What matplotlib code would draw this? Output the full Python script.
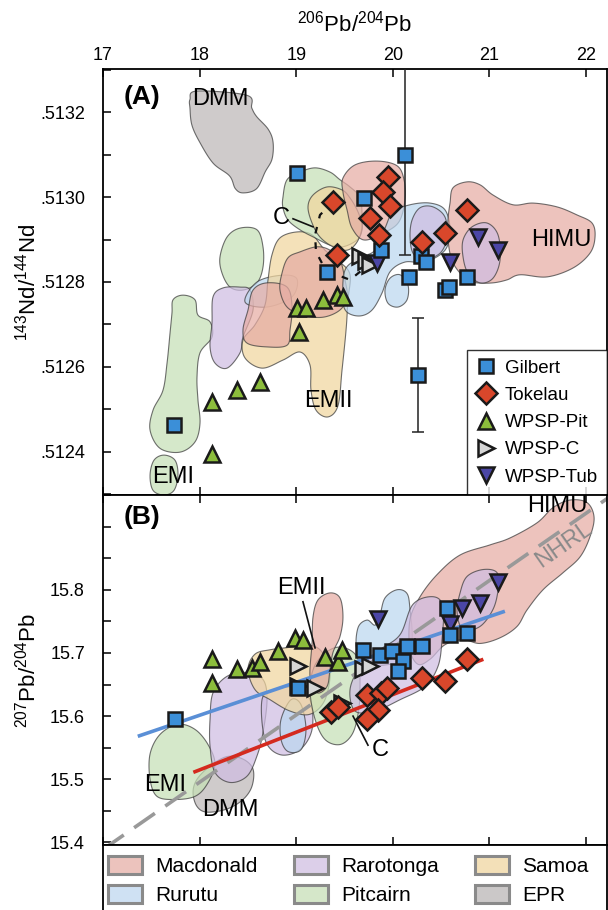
import numpy as np
import matplotlib
matplotlib.use("Agg")
import matplotlib.pyplot as plt
from matplotlib.patches import Polygon, Patch

plt.rcParams['font.family'] = ['Liberation Sans', 'DejaVu Sans']
plt.rcParams['mathtext.default'] = 'regular'

# ---------------- data: panel A (206Pb/204Pb vs 143Nd/144Nd) ----------------
gil_a_x = [19.005, 20.126, 19.702, 19.878, 20.292, 20.344, 19.319, 20.168, 20.540, 20.582, 20.768, 17.735, 20.261]
gil_a_y = [.513056, .513100, .512998, .512875, .512861, .512847, .512824, .512812, .512781, .512788, .512812, .512463, .512581]
tok_a_x = [19.953, 19.902, 19.971, 19.384, 19.764, 19.860, 19.425, 20.299, 20.540, 20.765]
tok_a_y = [.513048, .513013, .512978, .512989, .512950, .512911, .512864, .512895, .512915, .512970]
pit_a_x = [19.005, 19.101, 19.281, 19.425, 19.488, 19.029, 18.625, 18.384, 18.125, 18.125]
pit_a_y = [.512738, .512738, .512758, .512769, .512765, .512683, .512565, .512545, .512518, .512394]
wc_a_x = [19.660, 19.723, 19.764]
wc_a_y = [.512861, .512850, .512840]
tub_a_x = [19.833, 20.592, 20.885, 21.092]
tub_a_y = [.512844, .512848, .512907, .512875]
err_a_x = [20.126, 20.261]
err_a_y = [.513100, .512581]
err_a_e = [.000236, .000135]
pathC_a_x = [19.384, 19.246, 19.195, 19.205, 19.277, 19.422, 19.557, 19.681]
pathC_a_y = [.512989, .512958, .512911, .512871, .512840, .512817, .512805, .512828]

# fields panel A
epr_a1_x = [17.90, 17.97, 18.49, 18.54, 18.59, 18.71, 18.76, 18.75, 18.68, 18.59, 18.45, 18.37, 18.31, 18.14, 18.00, 17.92, 17.90]
epr_a1_y = [.51323, .51325, .51324, .51321, .51319, .51316, .51313, .51309, .51306, .51302, .51301, .51302, .51305, .51308, .51313, .51317, .51321]
mac_a1_x = [20.592, 20.623, 20.768, 20.903, 21.037, 21.244, 21.451, 21.700, 21.907, 22.062, 22.093, 22.041, 21.865, 21.596, 21.317, 21.182, 21.037, 20.872, 20.768, 20.623, 20.571, 20.571]
mac_a1_y = [.512986, .513022, .513036, .513029, .513005, .512982, .512986, .512977, .512958, .512939, .512906, .512868, .512833, .512812, .512817, .512805, .512798, .512798, .512805, .512845, .512899, .512946]
mac_a2_x = [19.484, 19.609, 19.836, 20.043, 20.116, 20.126, 20.064, 19.909, 19.702, 19.578, 19.526, 19.484]
mac_a2_y = [.513045, .513076, .513085, .513074, .513041, .512993, .512942, .512916, .512899, .512927, .512970, .513012]
mac_a3_x = [18.853, 18.915, 19.039, 19.215, 19.350, 19.453, 19.505, 19.526, 19.453, 19.277, 19.070, 18.905, 18.832]
mac_a3_y = [.512821, .512857, .512871, .512883, .512875, .512852, .512805, .512765, .512734, .512717, .512722, .512741, .512781]
mac_a4_x = [18.553, 18.698, 18.905, 18.957, 18.936, 18.905, 18.698, 18.491, 18.449, 18.501]
mac_a4_y = [.512781, .512798, .512788, .512741, .512687, .512651, .512647, .512656, .512687, .512734]
pit_f_a1_x = [18.863, 18.905, 19.039, 19.195, 19.350, 19.453, 19.557, 19.660, 19.681, 19.681, 19.629, 19.484, 19.350, 19.195, 19.039, 18.915, 18.863]
pit_f_a1_y = [.513000, .513041, .513059, .513069, .513059, .513041, .513024, .513000, .512963, .512923, .512899, .512883, .512887, .512904, .512923, .512946, .512975]
pit_f_a2_x = [18.211, 18.284, 18.418, 18.594, 18.656, 18.656, 18.594, 18.449, 18.315, 18.232]
pit_f_a2_y = [.512859, .512906, .512927, .512923, .512883, .512835, .512798, .512781, .512788, .512821]
pit_f_a3_x = [17.725, 17.828, 17.952, 17.983, 18.108, 18.128, 18.004, 17.973, 17.983, 18.004, 17.952, 17.797, 17.590, 17.487, 17.518, 17.621, 17.663, 17.694, 17.714]
pit_f_a3_y = [.512758, .512769, .512758, .512722, .512706, .512670, .512633, .512576, .512522, .512467, .512423, .512399, .512408, .512451, .512498, .512545, .512609, .512680, .512727]
pit_f_a4_x = [17.631, 17.745, 17.776, 17.735, 17.631, 17.518, 17.487, 17.528]
pit_f_a4_y = [.512392, .512380, .512345, .512309, .512298, .512309, .512345, .512380]
sam_a1_x = [19.122, 19.174, 19.319, 19.474, 19.557, 19.640, 19.681, 19.629, 19.526, 19.381, 19.246, 19.164]
sam_a1_y = [.512977, .513005, .513024, .513017, .512998, .512965, .512930, .512894, .512875, .512883, .512906, .512939]
sam_a2_x = [18.749, 18.832, 19.008, 19.164, 19.298, 19.453, 19.557, 19.536, 19.516, 19.474, 19.433, 19.329, 19.205, 19.153, 19.143, 19.039, 18.863, 18.646, 18.470, 18.449, 18.573, 18.677, 18.708]
sam_a2_y = [.512864, .512904, .512918, .512911, .512875, .512847, .512817, .512758, .512687, .512592, .512509, .512482, .512498, .512545, .512604, .512635, .512616, .512597, .512621, .512663, .512699, .512746, .512805]
rur_a1_x = [19.484, 19.505, 19.660, 19.816, 19.919, 20.002, 20.178, 20.385, 20.540, 20.592, 20.540, 20.333, 20.126, 19.971, 19.888, 19.785, 19.660, 19.526]
rur_a1_y = [.512758, .512828, .512857, .512875, .512927, .512965, .512982, .512986, .512970, .512923, .512875, .512847, .512847, .512824, .512774, .512734, .512720, .512729]
rur_a2_x = [19.919, 19.971, 20.075, 20.157, 20.147, 20.054, 19.950]
rur_a2_y = [.512781, .512809, .512817, .512793, .512758, .512741, .512750]
rur_a3_x = [18.470, 18.594, 18.853, 19.008, 18.957, 18.698]
rur_a3_y = [.512753, .512800, .512816, .512807, .512765, .512741]
rar_a1_x = [20.199, 20.282, 20.416, 20.540, 20.561, 20.489, 20.313, 20.209, 20.178]
rar_a1_y = [.512946, .512975, .512977, .512953, .512906, .512868, .512852, .512868, .512906]
rar_a2_x = [20.727, 20.820, 20.975, 21.089, 21.110, 21.037, 20.903, 20.778, 20.727]
rar_a2_y = [.512899, .512930, .512939, .512911, .512852, .512809, .512798, .512821, .512859]
rar_a3_x = [18.139, 18.242, 18.418, 18.522, 18.553, 18.449, 18.418, 18.284, 18.159, 18.108, 18.128]
rar_a3_y = [.512765, .512786, .512788, .512781, .512734, .512670, .512633, .512597, .512609, .512647, .512703]

# ---------------- data: panel B (206Pb/204Pb vs 207Pb/204Pb) ----------------
gil_b_x = [17.745, 19.022, 19.695, 19.867, 19.989, 20.144, 20.299, 20.109, 20.057, 20.558, 20.592, 20.765]
gil_b_y = [15.595, 15.645, 15.705, 15.697, 15.703, 15.711, 15.711, 15.687, 15.672, 15.771, 15.729, 15.732]
tok_b_x = [19.360, 19.433, 19.733, 19.878, 19.940, 19.847, 19.733, 20.299, 20.540, 20.765]
tok_b_y = [15.606, 15.614, 15.633, 15.637, 15.645, 15.609, 15.595, 15.661, 15.656, 15.691]
pit_b_x = [18.125, 18.125, 18.384, 18.539, 18.625, 18.815, 18.988, 19.074, 19.298, 19.428, 19.471]
pit_b_y = [15.690, 15.652, 15.674, 15.676, 15.686, 15.703, 15.724, 15.721, 15.694, 15.686, 15.704]
wc_b_x = [19.022, 19.022, 19.195, 19.471, 19.695, 19.764]
wc_b_y = [15.679, 15.647, 15.645, 15.621, 15.674, 15.679]
tub_b_x = [21.092, 20.903, 20.713, 20.592, 19.842]
tub_b_y = [15.813, 15.779, 15.771, 15.746, 15.754]
gil_fit_x = [17.36, 21.16]
gil_fit_y = [15.568, 15.766]
tok_fit_x = [17.935, 20.937]
tok_fit_y = [15.511, 15.690]
nhrl_x = [17.0, 22.3]
nhrl_y = [15.389, 15.953]

mac_b1_x = [20.178, 20.282, 20.458, 20.696, 21.006, 21.213, 21.493, 21.658, 21.834, 22.010, 22.083, 22.041, 21.938, 21.762, 21.555, 21.389, 21.286, 21.110, 20.903, 20.727, 20.540, 20.385, 20.261, 20.178]
mac_b1_y = [15.753, 15.789, 15.824, 15.855, 15.871, 15.882, 15.906, 15.930, 15.942, 15.938, 15.915, 15.884, 15.852, 15.827, 15.800, 15.768, 15.742, 15.724, 15.715, 15.721, 15.713, 15.690, 15.682, 15.705]
mac_b2_x = [19.174, 19.226, 19.350, 19.453, 19.484, 19.453, 19.381, 19.350, 19.319, 19.215, 19.143, 19.164]
mac_b2_y = [15.757, 15.784, 15.795, 15.787, 15.757, 15.726, 15.701, 15.674, 15.647, 15.637, 15.662, 15.716]
rar_b1_x = [20.768, 20.934, 21.079, 21.089, 21.037, 20.903, 20.727, 20.665, 20.696]
rar_b1_y = [15.821, 15.832, 15.827, 15.800, 15.769, 15.742, 15.737, 15.764, 15.795]
rar_b2_x = [19.557, 19.660, 19.867, 20.075, 20.209, 20.416, 20.520, 20.509, 20.468, 20.333, 20.075, 19.816, 19.609]
rar_b2_y = [15.642, 15.677, 15.705, 15.729, 15.777, 15.789, 15.773, 15.721, 15.679, 15.647, 15.626, 15.608, 15.608]
rar_b3_x = [18.139, 18.284, 18.491, 18.656, 18.698, 18.656, 18.594, 18.491, 18.315, 18.159, 18.108, 18.108]
rar_b3_y = [15.637, 15.663, 15.669, 15.658, 15.626, 15.574, 15.537, 15.505, 15.495, 15.511, 15.552, 15.595]
rar_b4_x = [18.646, 18.781, 18.988, 19.143, 19.164, 19.039, 18.832, 18.677]
rar_b4_y = [15.626, 15.642, 15.645, 15.626, 15.579, 15.547, 15.539, 15.563]
rur_b1_x = [19.629, 19.640, 19.733, 19.816, 19.867, 19.919, 20.043, 20.147, 20.178, 20.199, 20.126, 19.971, 19.764]
rur_b1_y = [15.705, 15.740, 15.752, 15.744, 15.760, 15.787, 15.800, 15.794, 15.769, 15.721, 15.690, 15.682, 15.682]
rur_b2_x = [18.843, 18.946, 19.050, 19.101, 19.050, 18.915, 18.843]
rur_b2_y = [15.595, 15.626, 15.618, 15.579, 15.547, 15.544, 15.563]
pit_f_b1_x = [17.487, 17.590, 17.776, 17.952, 18.087, 18.159, 18.077, 17.952, 17.745, 17.559, 17.487]
pit_f_b1_y = [15.540, 15.571, 15.587, 15.579, 15.555, 15.524, 15.492, 15.473, 15.468, 15.473, 15.500]
pit_f_b2_x = [19.143, 19.195, 19.350, 19.505, 19.640, 19.660, 19.640, 19.578, 19.453, 19.298, 19.195]
pit_f_b2_y = [15.642, 15.681, 15.705, 15.708, 15.690, 15.642, 15.603, 15.571, 15.555, 15.563, 15.595]
sam_b1_x = [18.501, 18.573, 18.729, 18.936, 19.091, 19.246, 19.350, 19.298, 19.143, 18.936, 18.729, 18.573]
sam_b1_y = [15.674, 15.698, 15.705, 15.709, 15.713, 15.705, 15.674, 15.626, 15.603, 15.608, 15.626, 15.642]
epr_b1_x = [17.973, 18.108, 18.284, 18.449, 18.553, 18.542, 18.449, 18.284, 18.077, 17.973, 17.932]
epr_b1_y = [15.500, 15.521, 15.536, 15.532, 15.516, 15.489, 15.468, 15.453, 15.448, 15.457, 15.479]

legend_names = ['Macdonald', 'Rurutu', 'Rarotonga', 'Pitcairn', 'Samoa', 'EPR']

# ---------------- styles ----------------
c_mac, c_rar, c_sam = '#e6aca4', '#cfbde2', '#f1d69e'
c_rur, c_pit, c_epr = '#bcd7ef', '#c6e0b6', '#bdb8b8'
leg_c = {'Macdonald': '#ecc3bd', 'Rarotonga': '#dccfe9', 'Samoa': '#f3e0b8',
         'Rurutu': '#cfe1f3', 'Pitcairn': '#d5e7c9', 'EPR': '#cbc8c8'}


def smooth(xs, ys, n=14):
    p = np.column_stack([xs, ys]).astype(float)
    N = len(p)
    out = []
    for i in range(N):
        p0, p1, p2, p3 = p[i - 1], p[i], p[(i + 1) % N], p[(i + 2) % N]
        for t in np.linspace(0, 1, n, endpoint=False):
            t2, t3 = t * t, t * t * t
            out.append(0.5 * (2 * p1 + (-p0 + p2) * t + (2 * p0 - 5 * p1 + 4 * p2 - p3) * t2
                              + (-p0 + 3 * p1 - 3 * p2 + p3) * t3))
    return np.array(out)


def field(ax, xs, ys, col):
    ax.add_patch(Polygon(smooth(xs, ys), closed=True, facecolor=col, alpha=0.72,
                         edgecolor='#3a3a3a', linewidth=0.8, zorder=1))


mk = dict(markeredgecolor='#1a1a1a', markeredgewidth=1.8, linestyle='none', zorder=5)
st_gil = dict(marker='s', markerfacecolor='#3b8fd8', markersize=10.5, **mk)
st_tok = dict(marker='D', markerfacecolor='#d9472b', markersize=11.5, **mk)
st_pit = dict(marker='^', markerfacecolor='#8cbd3c', markersize=11, **mk)
st_wc = dict(marker='>', markerfacecolor='#d6d6d6', markersize=11, **mk)
st_tub = dict(marker='v', markerfacecolor='#4b46a6', markersize=11, **mk)

fig = plt.figure(figsize=(6.08, 9.10), dpi=100)
W, H = 608.0, 910.0
axA = fig.add_axes([103 / W, 1 - 495 / H, 504 / W, 426 / H])
axB = fig.add_axes([103 / W, 1 - 845 / H, 504 / W, 350 / H])

xlim = (17.0, 22.217)

# ---------- panel A ----------
for xs, ys, c in [(epr_a1_x, epr_a1_y, c_epr), (pit_f_a3_x, pit_f_a3_y, c_pit), (pit_f_a4_x, pit_f_a4_y, c_pit),
                  (pit_f_a2_x, pit_f_a2_y, c_pit), (rar_a3_x, rar_a3_y, c_rar), (rur_a3_x, rur_a3_y, c_rur),
                  (sam_a2_x, sam_a2_y, c_sam), (mac_a4_x, mac_a4_y, c_mac), (mac_a3_x, mac_a3_y, c_mac),
                  (pit_f_a1_x, pit_f_a1_y, c_pit), (sam_a1_x, sam_a1_y, c_sam), (mac_a2_x, mac_a2_y, c_mac),
                  (rur_a1_x, rur_a1_y, c_rur), (rur_a2_x, rur_a2_y, c_rur), (mac_a1_x, mac_a1_y, c_mac),
                  (rar_a1_x, rar_a1_y, c_rar), (rar_a2_x, rar_a2_y, c_rar)]:
    field(axA, xs, ys, c)

axA.errorbar(err_a_x, err_a_y, yerr=err_a_e, fmt='none', ecolor='#222', elinewidth=1.1,
             capsize=4, capthick=1.1, zorder=3)
axA.plot(pathC_a_x, pathC_a_y, color='#111', lw=1.6, dashes=(3, 4), zorder=3)
axA.plot([18.967, 19.174], [.512949, .512930], color='#111', lw=1.2, zorder=3)

axA.plot(pit_a_x, pit_a_y, label='WPSP-Pit', **st_pit)
axA.plot(wc_a_x, wc_a_y, label='WPSP-C', **st_wc)
axA.plot(tub_a_x, tub_a_y, label='WPSP-Tub', **st_tub)
axA.plot(gil_a_x, gil_a_y, label='Gilbert', **st_gil)
axA.plot(tok_a_x, tok_a_y, label='Tokelau', **st_tok)

fs_lab = 17
axA.text(18.211, .513232, 'DMM', fontsize=fs_lab, ha='center', va='center', zorder=6)
axA.text(21.745, .51290, 'HIMU', fontsize=fs_lab, ha='center', va='center', zorder=6)
axA.text(19.332, .51252, 'EMII', fontsize=fs_lab, ha='center', va='center', zorder=6)
axA.text(17.728, .51234, 'EMI', fontsize=fs_lab, ha='center', va='center', zorder=6)
axA.text(18.84, .51295, 'C', fontsize=fs_lab, ha='center', va='center', zorder=6)
axA.text(0.077, 0.934, '(A)', transform=axA.transAxes, fontsize=19, fontweight='bold', ha='center', va='center')

hl, ll = axA.get_legend_handles_labels()
order = ['Gilbert', 'Tokelau', 'WPSP-Pit', 'WPSP-C', 'WPSP-Tub']
hd = dict(zip(ll, hl))
leg = axA.legend([hd[o] for o in order], order, loc='lower right', bbox_to_anchor=(1.0, 0.0),
                 borderaxespad=0, fontsize=13.5, frameon=True, fancybox=False, edgecolor='black',
                 handlelength=1.0, handletextpad=0.5, labelspacing=0.54, borderpad=0.5)
leg.get_frame().set_linewidth(1.0)
leg.set_zorder(7)

axA.set_xlim(*xlim)
axA.set_ylim(0.512298, 0.513302)
yt = np.round(np.arange(0.5123, 0.51331, 0.0001), 4)
axA.set_yticks(yt)
axA.set_yticklabels([('%.4f' % v)[1:] if round(v * 1e4) % 2 == 0 and 0.51239 < v < 0.51325 else '' for v in yt])
axA.set_xticks([17, 18, 19, 20, 21, 22])
axA.xaxis.set_ticks_position('both')
axA.xaxis.set_label_position('top')
axA.tick_params(axis='x', which='both', direction='in', top=True, bottom=True, labeltop=True,
                labelbottom=False, length=6, width=1.1, labelsize=13)
axA.tick_params(axis='y', direction='in', length=6, width=1.1, labelsize=13, pad=13)
axA.set_xlabel('$^{206}$Pb/$^{204}$Pb', fontsize=16, labelpad=11)
axA.set_ylabel('$^{143}$Nd/$^{144}$Nd', fontsize=16)

# ---------- panel B ----------
for xs, ys, c in [(epr_b1_x, epr_b1_y, c_epr), (pit_f_b1_x, pit_f_b1_y, c_pit), (rar_b3_x, rar_b3_y, c_rar),
                  (rar_b4_x, rar_b4_y, c_rar), (rur_b2_x, rur_b2_y, c_rur), (sam_b1_x, sam_b1_y, c_sam),
                  (pit_f_b2_x, pit_f_b2_y, c_pit), (mac_b2_x, mac_b2_y, c_mac), (rur_b1_x, rur_b1_y, c_rur),
                  (mac_b1_x, mac_b1_y, c_mac), (rar_b2_x, rar_b2_y, c_rar), (rar_b1_x, rar_b1_y, c_rar)]:
    field(axB, xs, ys, c)

axB.plot(nhrl_x, nhrl_y, color='#999999', lw=2.6, dashes=(7, 3.5), zorder=2)
axB.plot(gil_fit_x, gil_fit_y, color='#5a8fd6', lw=2.6, zorder=2, solid_capstyle='butt')
axB.plot(tok_fit_x, tok_fit_y, color='#d42a1e', lw=2.6, zorder=2, solid_capstyle='butt')
axB.plot([19.070, 19.195], [15.781, 15.708], color='#111', lw=1.2, zorder=6)
axB.plot([19.588, 19.743], [15.600, 15.554], color='#111', lw=1.2, zorder=6)

axB.plot(pit_b_x, pit_b_y, **st_pit)
axB.plot(wc_b_x, wc_b_y, **st_wc)
axB.plot(tub_b_x, tub_b_y, **st_tub)
axB.plot(gil_b_x, gil_b_y, **st_gil)
axB.plot(tok_b_x, tok_b_y, **st_tok)

axB.text(21.70, 15.933, 'HIMU', fontsize=fs_lab, ha='center', va='center', zorder=6)
axB.text(19.057, 15.803, 'EMII', fontsize=fs_lab, ha='center', va='center', zorder=6)
axB.text(17.642, 15.491, 'EMI', fontsize=fs_lab, ha='center', va='center', zorder=6)
axB.text(18.315, 15.451, 'DMM', fontsize=fs_lab, ha='center', va='center', zorder=6)
axB.text(19.867, 15.546, 'C', fontsize=fs_lab, ha='center', va='center', zorder=6)
axB.text(21.77, 15.871, 'NHRL', fontsize=17, color='#8a8a8a', rotation=35, ha='center', va='center',
         rotation_mode='anchor', zorder=6)
axB.text(0.077, 0.937, '(B)', transform=axB.transAxes, fontsize=19, fontweight='bold', ha='center', va='center')

axB.set_xlim(*xlim)
axB.set_ylim(15.396, 15.950)
ybt = np.round(np.arange(15.40, 15.951, 0.05), 2)
axB.set_yticks(ybt)
axB.set_yticklabels(['%.1f' % v if round(v * 100) % 10 == 0 and v < 15.85 else '' for v in ybt])
axB.set_xticks([17, 18, 19, 20, 21, 22])
axB.tick_params(axis='x', which='both', direction='in', top=True, bottom=True, labeltop=False,
                labelbottom=False, length=6, width=1.1)
axB.tick_params(axis='y', direction='in', length=6, width=1.1, labelsize=13, pad=13)
axB.set_ylabel('$^{207}$Pb/$^{204}$Pb', fontsize=16)

for ax in (axA, axB):
    for s in ax.spines.values():
        s.set_linewidth(1.3)
axA.yaxis.set_label_coords(-0.125, 0.5)
axB.yaxis.set_label_coords(-0.125, 0.5)

# ---------- bottom legend ----------
axL = fig.add_axes([103 / W, -0.003, 504 / W, (910 - 845) / H + 0.003])
axL.set_xticks([])
axL.set_yticks([])
for s in axL.spines.values():
    s.set_linewidth(1.3)
handles = [Patch(facecolor=leg_c[n], edgecolor='#8a8a8a', linewidth=2.2) for n in legend_names]
axL.legend(handles, legend_names, ncol=3, loc='upper left', bbox_to_anchor=(0.0, 0.92), frameon=False,
           fontsize=15, handlelength=1.63, handleheight=1.0, handletextpad=0.62, columnspacing=1.75,
           labelspacing=0.42, borderaxespad=0, borderpad=0.25)

fig.savefig('out.png', dpi=100)
